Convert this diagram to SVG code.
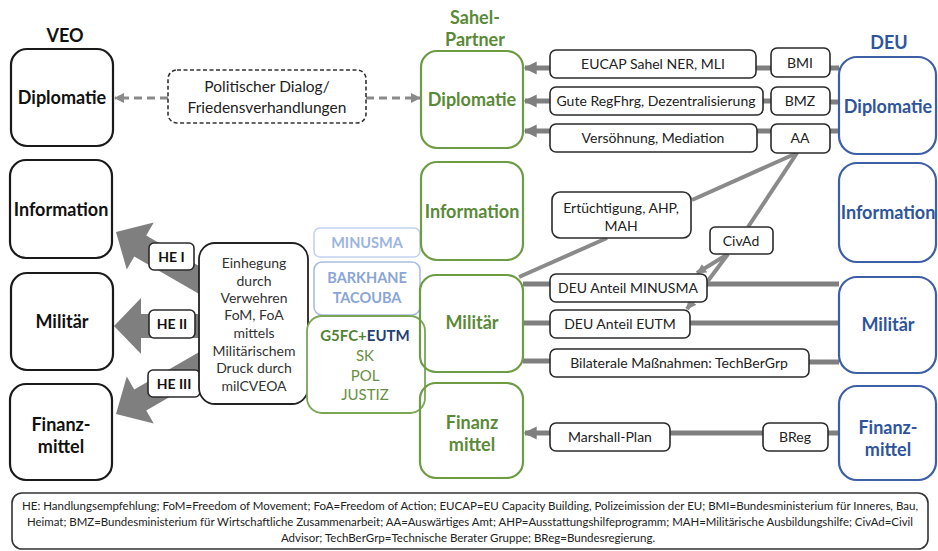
<svg xmlns="http://www.w3.org/2000/svg" width="938" height="551" viewBox="0 0 938 551">
<defs>
<style>
text{font-family:Lato,"Liberation Sans",Arial,sans-serif;text-anchor:middle}
.big{font-size:18px;font-weight:bold}
.veo{fill:#fff;stroke:#1a1a1a;stroke-width:2.2}
.veot{fill:#111}
.sah{fill:none;stroke:#6d9c45;stroke-width:2.2}
.saht{fill:#5a8a37}
.deu{fill:#fff;stroke:#3c5fa6;stroke-width:2.2}
.deut{fill:#2e549c}
.act{fill:#fff;stroke:#2a2a2a;stroke-width:1.6}
.actt{font-size:14px;fill:#222}
.he{font-size:14px;font-weight:bold;fill:#111}
.con{stroke:#7f7f7f;stroke-width:5;fill:none}
.diag{stroke:#8a8a8a;stroke-width:4;fill:none}
.dash{stroke:#8a8a8a;stroke-width:3;stroke-dasharray:8 5;fill:none}
.bigarrow{fill:#7f7f7f}
</style>
<marker id="ah" viewBox="0 0 10 10" refX="9" refY="5" markerUnits="userSpaceOnUse" markerWidth="13" markerHeight="14" orient="auto"><path d="M0,0 L10,5 L0,10 z" fill="#7f7f7f"/></marker>
<marker id="ahs" viewBox="0 0 10 10" refX="9" refY="5" markerUnits="userSpaceOnUse" markerWidth="10" markerHeight="10" orient="auto"><path d="M0,0 L10,5 L0,10 z" fill="#8a8a8a"/></marker>
</defs>
<rect width="938" height="551" fill="#fff"/>

<!-- big grey arrows -->
<g id="bigarrows">
<polygon class="bigarrow" transform="translate(116,232) rotate(210)" points="0,0 -28,-27 -28,-12 -118,-12 -118,12 -28,12 -28,27"/>
<polygon class="bigarrow" transform="translate(114,326) rotate(180)" points="0,0 -27,-28 -27,-12 -100,-12 -100,12 -27,12 -27,28"/>
<polygon class="bigarrow" transform="translate(116,414) rotate(150)" points="0,0 -28,-27 -28,-12 -118,-12 -118,12 -28,12 -28,27"/>
</g>

<!-- connectors -->
<g id="connectors">
<line class="dash" x1="168" y1="98" x2="115" y2="98" marker-end="url(#ahs)"/>
<line class="dash" x1="366" y1="98" x2="420" y2="98" marker-end="url(#ahs)"/>
<line class="con" x1="550" y1="68" x2="525" y2="68" marker-end="url(#ah)"/>
<line class="con" x1="756" y1="68" x2="771" y2="68"/>
<line class="con" x1="830" y1="68" x2="839" y2="68"/>
<line class="con" x1="550" y1="101" x2="525" y2="101" marker-end="url(#ah)"/>
<line class="con" x1="763" y1="101" x2="771" y2="101"/>
<line class="con" x1="830" y1="102" x2="839" y2="102"/>
<line class="con" x1="550" y1="131" x2="525" y2="131" marker-end="url(#ah)"/>
<line class="con" x1="757" y1="131" x2="771" y2="131"/>
<line class="con" x1="830" y1="131" x2="839" y2="131"/>
<line class="con" x1="523" y1="284" x2="550" y2="284"/>
<line class="con" x1="707" y1="284" x2="839" y2="284"/>
<line class="con" x1="523" y1="323" x2="550" y2="323"/>
<line class="con" x1="690" y1="323" x2="839" y2="323"/>
<line class="con" x1="523" y1="361" x2="550" y2="361"/>
<line class="con" x1="809" y1="362" x2="839" y2="362"/>
<line class="con" x1="550" y1="433" x2="525" y2="433" marker-end="url(#ah)"/>
<line class="con" x1="670" y1="433" x2="763" y2="433"/>
<line class="con" x1="828" y1="433" x2="839" y2="433"/>
<line class="diag" x1="797" y1="153" x2="692" y2="200"/>
<line class="diag" x1="797" y1="153" x2="748" y2="227"/>
<line class="diag" x1="607" y1="238" x2="519" y2="277"/>
<line class="diag" x1="728" y1="254" x2="697" y2="273" marker-end="url(#ahs)"/>
<line class="diag" x1="728" y1="254" x2="687" y2="309" marker-end="url(#ahs)"/>
</g>

<!-- titles -->
<g id="titles">
<text class="big veot" x="65" y="42">VEO</text>
<text class="big saht" x="475" y="24">Sahel-</text>
<text class="big saht" x="475" y="46">Partner</text>
<text class="big deut" x="889" y="49">DEU</text>
</g>

<!-- VEO column -->
<g id="veo-diplomatie"><rect class="veo" x="11" y="49" width="102" height="97" rx="16"/><text class="big veot" x="62" y="104">Diplomatie</text></g>
<g id="veo-information"><rect class="veo" x="10" y="160" width="102" height="98" rx="16"/><text class="big veot" x="61" y="216">Information</text></g>
<g id="veo-militaer"><rect class="veo" x="11" y="273" width="102" height="97" rx="16"/><text class="big veot" x="62" y="328">Militär</text></g>
<g id="veo-finanz"><rect class="veo" x="10" y="384" width="102" height="96" rx="16"/><text class="big veot" x="61" y="431">Finanz-</text><text class="big veot" x="61" y="453">mittel</text></g>

<!-- dialog -->
<g id="dialog"><rect x="168" y="70" width="198" height="53" rx="9" fill="#fff" stroke="#333" stroke-width="1.6" stroke-dasharray="4 2.5"/><text x="267" y="92" style="font-size:15.5px;fill:#222">Politischer Dialog/</text><text x="267" y="113" style="font-size:15.5px;fill:#222">Friedensverhandlungen</text></g>

<!-- HE labels -->
<g id="he1"><rect class="act" x="149" y="243" width="45" height="27" rx="5"/><text class="he" x="171.5" y="262">HE I</text></g>
<g id="he2"><rect class="act" x="149" y="310" width="46" height="28" rx="5"/><text class="he" x="172" y="329">HE II</text></g>
<g id="he3"><rect class="act" x="148" y="370" width="52" height="27" rx="5"/><text class="he" x="174" y="389">HE III</text></g>

<!-- Einhegung -->
<g id="einhegung"><rect x="199" y="243" width="109" height="161" rx="16" fill="#fff" stroke="#222" stroke-width="1.8"/>
<g style="font-size:14px;fill:#333">
<text x="254" y="268">Einhegung</text>
<text x="254" y="286">durch</text>
<text x="254" y="303">Verwehren</text>
<text x="254" y="320">FoM, FoA</text>
<text x="254" y="338">mittels</text>
<text x="254" y="356">Militärischem</text>
<text x="254" y="373">Druck durch</text>
<text x="254" y="391">milCVEOA</text>
</g></g>

<!-- multinational boxes -->
<g id="minusma"><rect x="314" y="228" width="106" height="29" rx="6" fill="#fff" stroke="#c2d2ee" stroke-width="1.6"/><text x="367" y="248" style="font-size:14.5px;font-weight:bold;fill:#9db4df">MINUSMA</text></g>
<g id="barkhane"><rect x="314" y="262" width="106" height="53" rx="8" fill="#fff" stroke="#a9bde3" stroke-width="1.6"/><text x="367" y="283" style="font-size:14.5px;font-weight:bold;fill:#8aa5d6">BARKHANE</text><text x="367" y="303" style="font-size:14.5px;font-weight:bold;fill:#8aa5d6">TACOUBA</text></g>
<g id="g5fc"><rect x="307" y="316" width="118" height="97" rx="15" fill="#fff" stroke="#7aa655" stroke-width="1.8"/><text x="365" y="341" style="font-size:15px;font-weight:bold"><tspan fill="#548235">G5FC+</tspan><tspan fill="#243f73">EUTM</tspan></text><g style="font-size:15px;fill:#6a8e44"><text x="365" y="361">SK</text><text x="365" y="381">POL</text><text x="365" y="400">JUSTIZ</text></g></g>

<!-- Sahel column -->
<g id="sahel-diplomatie"><rect class="sah" x="421" y="51" width="102" height="97" rx="16"/><text class="big saht" x="472" y="106">Diplomatie</text></g>
<g id="sahel-information"><rect class="sah" x="421" y="162" width="102" height="98" rx="16"/><text class="big saht" x="472" y="218">Information</text></g>
<g id="sahel-militaer"><rect class="sah" x="420" y="275" width="103" height="97" rx="16"/><text class="big saht" x="472" y="329">Militär</text></g>
<g id="sahel-finanz"><rect class="sah" x="420" y="383" width="103" height="95" rx="16"/><text class="big saht" x="472" y="429">Finanz</text><text class="big saht" x="472" y="451">mittel</text></g>

<!-- activities -->
<g id="eucap"><rect class="act" x="550" y="50" width="206" height="28" rx="6"/><text class="actt" x="653" y="69">EUCAP Sahel NER, MLI</text></g>
<g id="regfhrg"><rect class="act" x="550" y="87" width="213" height="28" rx="6"/><text class="actt" x="656" y="106">Gute RegFhrg, Dezentralisierung</text></g>
<g id="versoehnung"><rect class="act" x="550" y="124" width="207" height="28" rx="6"/><text class="actt" x="653" y="143">Versöhnung, Mediation</text></g>
<g id="bmi"><rect class="act" x="771" y="48" width="59" height="29" rx="6"/><text class="actt" x="800" y="68">BMI</text></g>
<g id="bmz"><rect class="act" x="771" y="87" width="59" height="28" rx="6"/><text class="actt" x="800" y="106">BMZ</text></g>
<g id="aa"><rect class="act" x="771" y="124" width="59" height="29" rx="6"/><text class="actt" x="800" y="143">AA</text></g>
<g id="ertuechtigung"><rect class="act" x="552" y="192" width="139" height="46" rx="8"/><text class="actt" x="621" y="213">Ertüchtigung, AHP,</text><text class="actt" x="621" y="231">MAH</text></g>
<g id="civad"><rect class="act" x="710" y="227" width="63" height="27" rx="5"/><text class="actt" x="741" y="246">CivAd</text></g>
<g id="anteil-minusma"><rect class="act" x="550" y="274" width="157" height="28" rx="6"/><text class="actt" x="628" y="293">DEU Anteil MINUSMA</text></g>
<g id="anteil-eutm"><rect class="act" x="550" y="310" width="140" height="28" rx="6"/><text class="actt" x="620" y="329">DEU Anteil EUTM</text></g>
<g id="bilateral"><rect class="act" x="550" y="349" width="259" height="28" rx="6"/><text class="actt" x="679" y="368">Bilaterale Maßnahmen: TechBerGrp</text></g>
<g id="marshall"><rect class="act" x="550" y="423" width="120" height="28" rx="6"/><text class="actt" x="610" y="442">Marshall-Plan</text></g>
<g id="breg"><rect class="act" x="763" y="423" width="65" height="28" rx="6"/><text class="actt" x="795" y="442">BReg</text></g>

<!-- DEU column -->
<g id="deu-diplomatie"><rect class="deu" x="839" y="57" width="97" height="97" rx="18"/><text class="big deut" x="888" y="113">Diplomatie</text></g>
<g id="deu-information"><rect class="deu" x="839" y="163" width="97" height="99" rx="18"/><text class="big deut" x="888" y="219">Information</text></g>
<g id="deu-militaer"><rect class="deu" x="839" y="277" width="97" height="96" rx="18"/><text class="big deut" x="888" y="331">Militär</text></g>
<g id="deu-finanz"><rect class="deu" x="839" y="386" width="97" height="94" rx="18"/><text class="big deut" x="888" y="434">Finanz-</text><text class="big deut" x="888" y="456">mittel</text></g>

<!-- legend -->
<g id="legend"><rect x="12" y="493" width="916" height="56" rx="10" fill="#fff" stroke="#333" stroke-width="1.6"/>
<g style="font-size:11.5px;fill:#222">
<text x="470" y="510" textLength="896" lengthAdjust="spacingAndGlyphs">HE: Handlungsempfehlung; FoM=Freedom of Movement; FoA=Freedom of Action; EUCAP=EU Capacity Building, Polizeimission der EU; BMI=Bundesministerium für Inneres, Bau,</text>
<text x="470" y="526" textLength="886" lengthAdjust="spacingAndGlyphs">Heimat; BMZ=Bundesministerium für Wirtschaftliche Zusammenarbeit; AA=Auswärtiges Amt; AHP=Ausstattungshilfeprogramm; MAH=Militärische Ausbildungshilfe; CivAd=Civil</text>
<text x="468" y="542">Advisor; TechBerGrp=Technische Berater Gruppe; BReg=Bundesregierung.</text>
</g></g>
</svg>
